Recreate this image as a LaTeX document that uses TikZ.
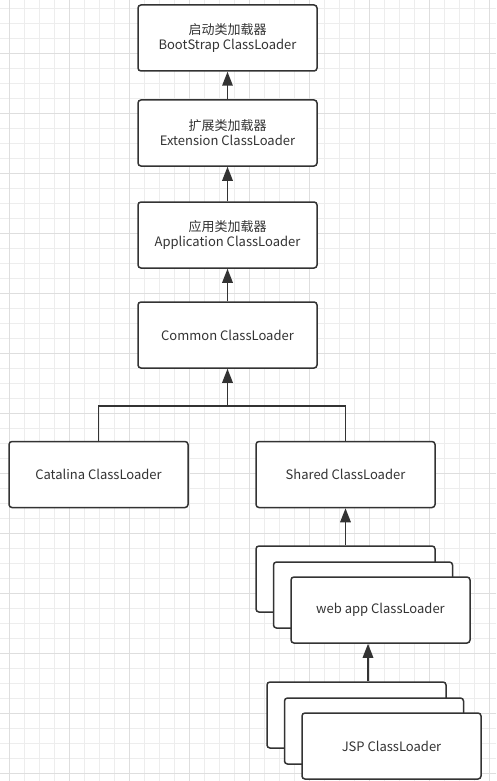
\documentclass[tikz,border=0pt]{standalone}
\usepackage{fontspec}
\setmainfont{Noto Sans CJK SC}
\usetikzlibrary{arrows.meta,calc}
\definecolor{ink}{HTML}{333333}
\definecolor{gridminor}{HTML}{EDEDED}
\definecolor{gridmajor}{HTML}{DEDEDE}

\begin{document}
\begin{tikzpicture}[x=1pt,y=-1pt]
%styles
\tikzstyle{loader}=[rectangle, draw=ink, line width=1.5pt, rounded corners=3pt, fill=white,
  minimum width=179pt, minimum height=66pt, inner sep=0pt, text=ink, align=center,
  font=\fontsize{13}{15}\selectfont]
\tikzstyle{vector}=[-{Triangle[length=14pt,width=10.5pt]}, draw=ink, line width=1.6pt]
\tikzstyle{link}=[draw=ink, line width=1.6pt]

\useasboundingbox (0,0) rectangle (496,781);
\fill[white] (0,0) rectangle (496,781);

%grid
\foreach \x in {9.5,24.5,...,496} \draw[gridminor] (\x,0) -- (\x,781);
\foreach \y in {8,23,...,781} \draw[gridminor] (0,\y) -- (496,\y);
\foreach \x in {9.5,69.5,...,496} \draw[gridmajor] (\x,0) -- (\x,781);
\foreach \y in {53,113,...,781} \draw[gridmajor] (0,\y) -- (496,\y);

%figure
\coordinate (cBoot) at (227.5,38);
\coordinate (cExt) at (227.5,133);
\coordinate (cApp) at (227.5,235);
\coordinate (cCommon) at (227.5,335);
\coordinate (cCatalina) at (98.5,474.5);
\coordinate (cShared) at (345.5,474.5);
\coordinate (cWeb) at (345.5,579);
\coordinate (cJsp) at (356.5,715);

%text
\node[loader] (boot) at (cBoot) {启动类加载器\\BootStrap ClassLoader};
\node[loader] (ext) at (cExt) {扩展类加载器\\Extension ClassLoader};
\node[loader] (app) at (cApp) {应用类加载器\\Application ClassLoader};
\node[loader] (common) at (cCommon) {Common ClassLoader};
\node[loader] (catalina) at (cCatalina) {Catalina ClassLoader};
\node[loader] (shared) at (cShared) {Shared ClassLoader};

\node[loader] (web1) at (cWeb) {};
\node[loader] (web2) at ($(cWeb)+(17.5,16)$) {};
\node[loader] (web3) at ($(cWeb)+(35,31)$) {web app ClassLoader};

\node[loader] (jsp1) at (cJsp) {};
\node[loader] (jsp2) at ($(cJsp)+(17.5,16)$) {};
\node[loader] (jsp3) at ($(cJsp)+(35,31)$) {JSP ClassLoader};

%vecteur
\draw[vector] (ext) -- (boot);
\draw[vector] (app) -- (ext);
\draw[vector] (common) -- (app);

\coordinate (split) at ($(common.south)+(0,37)$);
\draw[link] (catalina.north) |- (split) -| (shared.north);
\draw[vector] (split) -- (common.south);

\draw[vector] (web1) -- (shared);
\draw[vector] ([xshift=11.5pt]jsp1.north) -- ([xshift=11.5pt]jsp1.north |- web3.south);
\end{tikzpicture}
\end{document}
